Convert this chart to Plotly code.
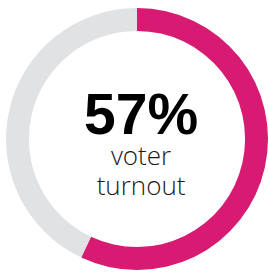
import plotly.graph_objects as go

labels = ["Voted", "Did not vote"]
values = [57, 43]
colors = ["#D71A72", "#E1E2E4"]
headline = "57%"
subline = ["voter", "turnout"]

W, H = 268, 273

fig = go.Figure(go.Pie(
    labels=labels,
    values=values,
    hole=0.825,
    sort=False,
    direction="clockwise",
    rotation=0,
    marker=dict(colors=colors, line=dict(width=0)),
    textinfo="none",
    hoverinfo="skip",
    showlegend=False,
    domain=dict(x=[6 / W, 1], y=[1 - 270 / H, 1 - 8 / H]),
))

def py(px):
    return 1 - px / H

label_text = (
    '<span style="font-family:\'Liberation Sans\', Arial, sans-serif;font-size:57px;'
    'font-weight:700;color:#000000">' + headline + '</span>'
    + ''.join('<br><span style="font-size:26px">' + s + '</span>' for s in subline)
)

fig.add_annotation(x=140.5 / W, y=py(142), xref="paper", yref="paper",
                   text=label_text, showarrow=False, xanchor="center", yanchor="middle",
                   align="center",
                   font=dict(family="Open Sans, sans-serif", size=23.5, color="#1a1a1a", weight=300))

fig.update_layout(width=W, height=H, margin=dict(l=0, r=0, t=0, b=0),
                  paper_bgcolor="white", plot_bgcolor="white")
fig.write_html("out.html", post_script="document.body.style.margin='0';",
               config={"displayModeBar": False, "staticPlot": True})
